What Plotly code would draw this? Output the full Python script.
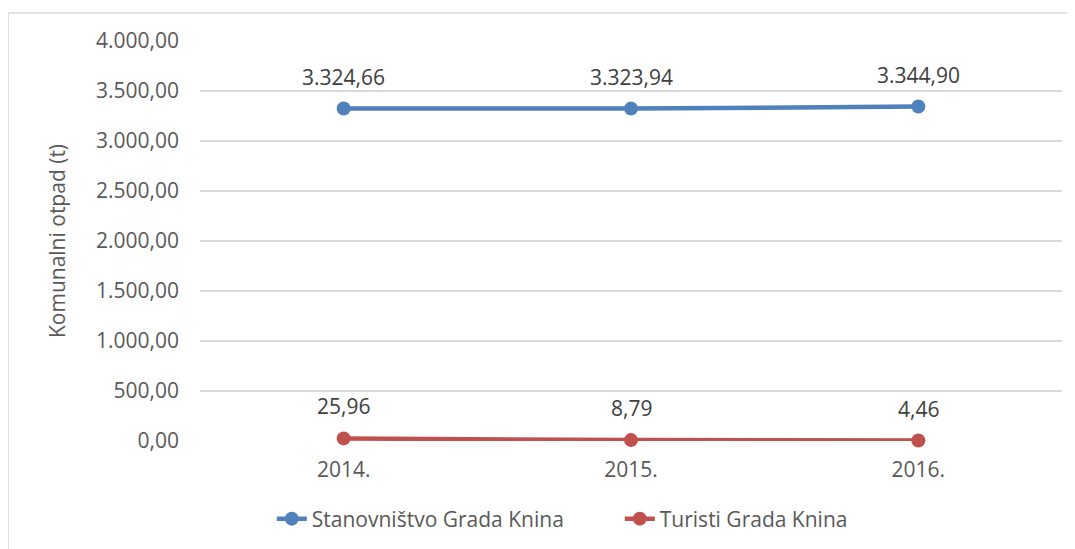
import plotly.graph_objects as go

years = ["2014.", "2015.", "2016."]
stanovnistvo = [3324.66, 3323.94, 3344.90]
turisti = [25.96, 8.79, 4.46]
series_names = ["Stanovništvo Grada Knina", "Turisti Grada Knina"]
y_ticks = [0, 500, 1000, 1500, 2000, 2500, 3000, 3500, 4000]

def eu(v):
    s = f"{v:,.2f}"
    return s.replace(",", "X").replace(".", ",").replace("X", ".")

FONT = "Open Sans, Noto Sans, DejaVu Sans, sans-serif"
GREY = "#595959"

# page body adds an 8px offset; compensate in margins
OFF = 8
L, R_EDGE, T, B_EDGE = 200 - OFF, 1062 - OFF, 41 - OFF, 441 - OFF
W, H = 1075, 549
PW, PH = R_EDGE - L, B_EDGE - T

fig = go.Figure()
annotations = []
for name, vals, col in [(series_names[0], stanovnistvo, "#4f81bd"),
                        (series_names[1], turisti, "#c0504d")]:
    fig.add_trace(go.Scatter(
        x=years, y=vals, name=name, mode="lines+markers",
        line=dict(color=col, width=4.5),
        marker=dict(color=col, size=14),
        cliponaxis=False,
    ))
    for i, v in enumerate(vals):
        annotations.append(dict(x=i, y=v, xref="x", yref="y", text=eu(v),
                                showarrow=False, yshift=32,
                                font=dict(family=FONT, size=21, color="#404040")))

fig.update_layout(
    width=W, height=H,
    margin=dict(l=L, r=W - R_EDGE, t=T, b=H - B_EDGE),
    paper_bgcolor="white", plot_bgcolor="white",
    font=dict(family=FONT, size=21, color=GREY),
    showlegend=True,
    legend=dict(orientation="h", x=0.487, xanchor="center", y=-0.195, yanchor="middle",
                font=dict(family=FONT, size=21, color=GREY),
                entrywidth=303, entrywidthmode="pixels",
                traceorder="normal"),
    xaxis=dict(type="category", range=[-0.5, 2.5], showgrid=False, showline=False,
               ticks="", tickfont=dict(family=FONT, size=21, color=GREY),
               ticklabelstandoff=14, zeroline=False),
    yaxis=dict(range=[0, 4000], tickvals=y_ticks, ticktext=[eu(v) for v in y_ticks],
               showgrid=True, gridcolor="#d9d9d9", gridwidth=1.5, zeroline=False,
               showline=False, ticks="", ticklabelstandoff=20,
               tickfont=dict(family=FONT, size=21, color=GREY),
               title=dict(text="Komunalni otpad (t)", standoff=24,
                          font=dict(family=FONT, size=21, color=GREY))),
    annotations=annotations,
    shapes=[dict(type="rect", xref="paper", yref="paper",
                 x0=(8 - OFF - L) / PW, x1=1.1, y0=-0.4, y1=(B_EDGE - (13 - OFF)) / PH,
                 line=dict(color="#d9d9d9", width=1.5), fillcolor="rgba(0,0,0,0)",
                 layer="below")],
)

fig.write_html("out.html")
